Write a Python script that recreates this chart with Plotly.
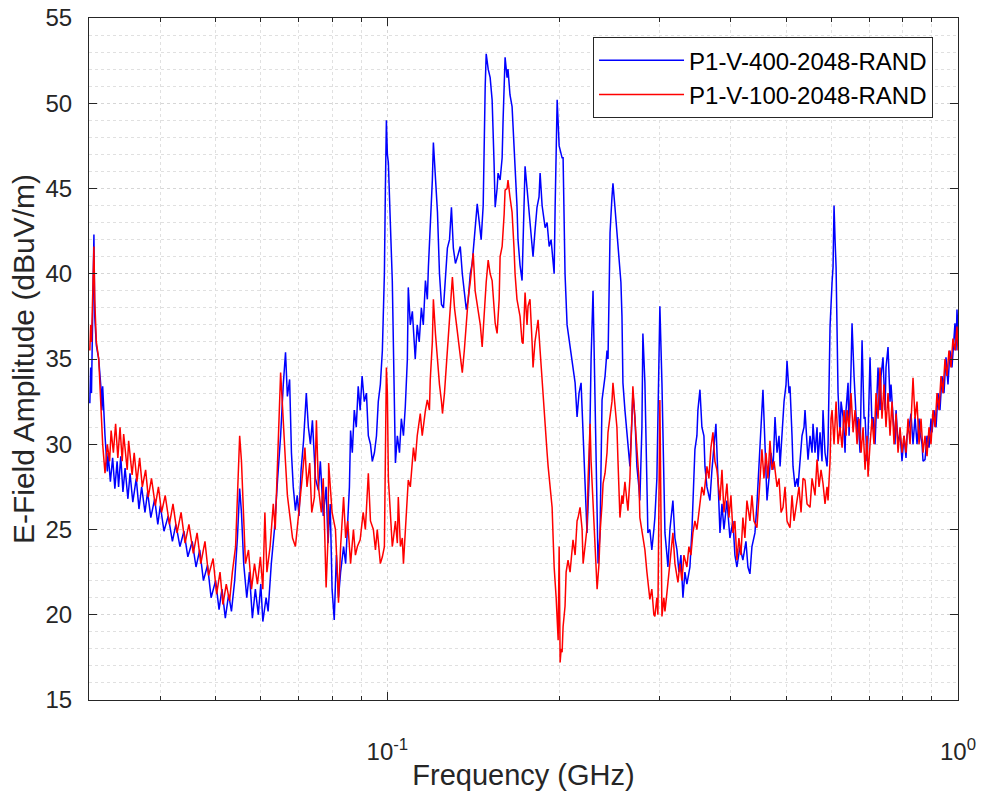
import plotly.graph_objects as go

# ---- data (frequency in GHz, amplitude in dBuV/m) ----
blue_name = "P1-V-400-2048-RAND"
red_name = "P1-V-100-2048-RAND"

blue_freq = [0.0301,0.0302,0.0303,0.0305,0.0306,0.0307,0.0309,0.0312,0.0315,0.0316,0.0317,0.0320,0.0323,0.0324,0.0327,0.0330,0.0333,0.0336,0.0338,0.0341,0.0344,0.0347,0.0351,0.0354,0.0358,0.0363,0.0367,0.0371,0.0376,0.0380,0.0385,0.0391,0.0396,0.0400,0.0406,0.0413,0.0420,0.0426,0.0433,0.0440,0.0447,0.0455,0.0462,0.0469,0.0476,0.0484,0.0491,0.0500,0.0507,0.0513,0.0520,0.0527,0.0533,0.0540,0.0546,0.0551,0.0555,0.0560,0.0567,0.0573,0.0580,0.0587,0.0594,0.0600,0.0605,0.0613,0.0618,0.0626,0.0634,0.0642,0.0650,0.0657,0.0663,0.0668,0.0674,0.0679,0.0684,0.0690,0.0695,0.0700,0.0706,0.0713,0.0721,0.0727,0.0733,0.0739,0.0748,0.0757,0.0763,0.0772,0.0781,0.0787,0.0794,0.0800,0.0807,0.0814,0.0821,0.0828,0.0838,0.0845,0.0852,0.0858,0.0862,0.0868,0.0875,0.0882,0.0889,0.0896,0.0903,0.0911,0.0919,0.0926,0.0934,0.0941,0.0949,0.0957,0.0964,0.0972,0.0980,0.0988,0.0992,0.0996,0.1000,0.1004,0.1012,0.1020,0.1028,0.1033,0.1041,0.1050,0.1058,0.1067,0.1075,0.1084,0.1088,0.1097,0.1106,0.1115,0.1119,0.1128,0.1137,0.1147,0.1156,0.1166,0.1175,0.1180,0.1189,0.1199,0.1204,0.1214,0.1224,0.1234,0.1244,0.1254,0.1264,0.1274,0.1285,0.1295,0.1305,0.1316,0.1327,0.1342,0.1353,0.1364,0.1375,0.1386,0.1397,0.1408,0.1420,0.1431,0.1437,0.1449,0.1460,0.1472,0.1478,0.1484,0.1490,0.1502,0.1514,0.1526,0.1538,0.1545,0.1557,0.1563,0.1576,0.1589,0.1595,0.1608,0.1621,0.1627,0.1640,0.1654,0.1667,0.1674,0.1687,0.1694,0.1708,0.1722,0.1729,0.1743,0.1757,0.1764,0.1778,0.1800,0.1814,0.1829,0.1844,0.1852,0.1867,0.1890,0.1905,0.1921,0.1936,0.1952,0.1960,0.1968,0.1984,0.2000,0.2008,0.2024,0.2032,0.2040,0.2048,0.2065,0.2082,0.2099,0.2115,0.2133,0.2150,0.2167,0.2185,0.2203,0.2220,0.2238,0.2257,0.2275,0.2293,0.2312,0.2331,0.2340,0.2359,0.2378,0.2407,0.2426,0.2436,0.2456,0.2475,0.2485,0.2505,0.2525,0.2536,0.2556,0.2566,0.2577,0.2587,0.2608,0.2629,0.2650,0.2661,0.2683,0.2693,0.2715,0.2737,0.2759,0.2770,0.2793,0.2804,0.2827,0.2850,0.2861,0.2884,0.2907,0.2931,0.2943,0.2967,0.2979,0.2991,0.3003,0.3028,0.3052,0.3065,0.3090,0.3102,0.3127,0.3165,0.3191,0.3217,0.3243,0.3269,0.3296,0.3322,0.3349,0.3390,0.3418,0.3459,0.3487,0.3501,0.3530,0.3558,0.3587,0.3602,0.3631,0.3675,0.3705,0.3735,0.3765,0.3796,0.3827,0.3858,0.3889,0.3936,0.3984,0.4033,0.4065,0.4098,0.4148,0.4198,0.4250,0.4284,0.4319,0.4354,0.4407,0.4443,0.4479,0.4497,0.4533,0.4552,0.4589,0.4627,0.4664,0.4702,0.4740,0.4779,0.4818,0.4857,0.4877,0.4916,0.4956,0.4996,0.5016,0.5057,0.5077,0.5118,0.5139,0.5181,0.5223,0.5244,0.5286,0.5329,0.5372,0.5394,0.5438,0.5460,0.5504,0.5549,0.5571,0.5616,0.5662,0.5685,0.5731,0.5777,0.5800,0.5847,0.5895,0.5919,0.5967,0.5991,0.6016,0.6040,0.6064,0.6089,0.6114,0.6163,0.6213,0.6238,0.6289,0.6340,0.6365,0.6417,0.6443,0.6495,0.6521,0.6574,0.6601,0.6654,0.6681,0.6735,0.6790,0.6845,0.6873,0.6928,0.6956,0.7012,0.7069,0.7098,0.7155,0.7213,0.7242,0.7301,0.7330,0.7389,0.7449,0.7479,0.7540,0.7601,0.7632,0.7694,0.7756,0.7788,0.7851,0.7914,0.7978,0.8043,0.8108,0.8141,0.8207,0.8273,0.8340,0.8408,0.8476,0.8545,0.8579,0.8649,0.8684,0.8754,0.8825,0.8896,0.8968,0.9004,0.9077,0.9151,0.9225,0.9299,0.9374,0.9450,0.9527,0.9604,0.9681,0.9760,0.9839,0.9879,0.9919,0.9959,1.0000]
blue_amp = [32.4,34.5,33.0,38.0,42.3,37.5,35.8,35.0,33.2,32.0,33.4,30.5,28.4,29.5,27.8,29.2,27.4,29.0,27.5,29.3,27.2,28.6,26.8,28.3,26.6,28.0,26.2,27.5,26.0,27.2,25.7,26.8,25.3,26.4,24.9,25.8,24.3,25.3,24.0,24.9,23.4,24.3,22.8,23.8,22.0,22.9,21.0,22.0,20.3,21.5,19.8,21.2,20.2,22.0,24.5,27.4,26.0,23.0,21.0,22.5,19.8,21.5,20.0,21.8,19.6,21.0,20.2,23.0,25.0,27.9,30.5,33.5,35.4,32.8,33.8,29.5,27.5,26.1,27.0,25.8,28.5,30.2,33.0,31.0,30.0,31.4,28.0,27.3,29.0,25.8,27.5,24.2,26.5,21.5,19.7,23.5,21.0,22.5,24.0,23.0,25.5,27.5,30.8,29.5,32.0,31.0,33.4,32.0,34.0,32.5,33.0,30.5,30.0,29.0,29.5,30.5,32.5,33.5,35.5,40.0,45.0,49.0,47.0,46.5,43.0,39.6,33.0,28.9,30.5,29.5,31.5,30.5,32.2,35.0,39.2,37.0,37.8,35.5,35.0,37.0,36.0,38.0,37.0,39.6,38.5,40.4,42.5,45.5,47.7,45.5,43.6,40.0,38.2,38.0,40.0,41.5,42.0,43.9,41.5,40.6,41.0,41.6,40.0,39.0,37.9,38.5,40.0,40.6,42.0,43.0,44.1,43.0,42.0,44.0,48.0,51.0,52.9,52.0,51.5,50.2,46.5,43.9,45.0,45.9,45.5,46.8,49.0,52.7,51.5,52.0,50.5,49.8,47.5,46.3,44.0,42.0,40.5,39.6,42.0,46.3,45.0,44.3,43.0,41.0,42.5,43.9,44.5,45.9,44.0,42.7,43.0,41.6,42.0,40.5,40.0,44.0,50.2,47.5,47.3,46.8,46.8,43.0,40.0,37.0,36.1,35.5,34.5,33.6,31.6,33.0,33.6,30.5,27.7,24.8,28.0,35.0,39.0,33.0,27.7,23.0,24.8,32.6,34.0,35.5,35.0,42.4,44.5,45.3,43.9,42.5,41.4,40.0,39.5,37.5,33.6,32.0,30.7,29.5,28.7,31.5,33.0,31.6,28.7,27.5,26.7,31.0,36.5,33.6,28.0,24.8,25.0,23.8,25.0,25.7,28.0,31.6,35.0,38.1,33.6,27.0,24.8,23.5,22.8,25.0,26.7,24.5,23.8,22.5,23.5,21.0,22.5,21.8,22.8,25.0,29.7,30.5,32.0,33.2,31.0,30.5,28.7,27.5,26.7,28.5,30.0,31.2,28.0,24.8,26.5,25.0,26.7,24.5,25.5,23.5,22.8,24.0,23.2,24.3,22.8,22.4,24.0,24.8,26.5,28.5,29.7,31.5,33.2,30.0,26.7,28.0,29.5,28.5,31.6,29.5,30.5,28.7,30.5,32.5,33.5,34.9,33.0,33.4,30.5,28.7,27.5,28.0,27.5,29.0,30.5,31.0,32.0,30.0,29.1,30.5,29.5,31.2,29.5,31.0,29.0,30.7,29.0,32.0,29.5,28.7,30.0,36.9,38.5,39.5,40.4,44.0,42.0,40.4,33.0,30.5,32.5,31.6,29.5,32.0,33.6,30.5,34.5,37.1,34.0,32.6,30.5,31.6,29.5,36.1,31.5,31.6,29.0,30.5,35.1,31.0,31.6,30.0,32.5,34.5,32.0,34.0,35.1,32.0,34.5,35.7,32.5,33.5,31.6,30.0,32.0,30.0,30.7,29.0,30.5,29.2,30.5,31.0,31.8,30.0,31.6,30.0,31.5,30.7,30.0,29.0,29.1,30.5,29.8,31.5,30.7,32.0,31.0,33.0,32.0,34.0,33.0,35.1,33.5,35.5,34.5,36.5,37.1,35.5,37.9,36.5]

red_freq = [0.0301,0.0302,0.0303,0.0305,0.0306,0.0307,0.0309,0.0312,0.0315,0.0317,0.0320,0.0323,0.0326,0.0328,0.0331,0.0334,0.0337,0.0340,0.0343,0.0345,0.0350,0.0352,0.0357,0.0360,0.0364,0.0368,0.0372,0.0377,0.0381,0.0386,0.0392,0.0397,0.0402,0.0408,0.0415,0.0421,0.0428,0.0435,0.0442,0.0449,0.0457,0.0464,0.0471,0.0479,0.0486,0.0495,0.0502,0.0509,0.0515,0.0522,0.0529,0.0535,0.0542,0.0546,0.0551,0.0555,0.0560,0.0564,0.0571,0.0578,0.0585,0.0592,0.0599,0.0605,0.0610,0.0615,0.0623,0.0631,0.0636,0.0642,0.0647,0.0650,0.0655,0.0660,0.0663,0.0668,0.0676,0.0682,0.0690,0.0695,0.0704,0.0709,0.0717,0.0723,0.0731,0.0737,0.0745,0.0751,0.0757,0.0766,0.0772,0.0781,0.0787,0.0789,0.0800,0.0811,0.0817,0.0821,0.0828,0.0838,0.0845,0.0852,0.0862,0.0872,0.0879,0.0886,0.0896,0.0907,0.0915,0.0926,0.0934,0.0945,0.0953,0.0960,0.0972,0.0980,0.0988,0.0992,0.0996,0.1000,0.1004,0.1012,0.1020,0.1024,0.1033,0.1041,0.1045,0.1054,0.1062,0.1067,0.1075,0.1084,0.1088,0.1097,0.1111,0.1119,0.1128,0.1142,0.1151,0.1166,0.1175,0.1185,0.1189,0.1199,0.1204,0.1214,0.1224,0.1234,0.1244,0.1249,0.1259,0.1274,0.1285,0.1290,0.1300,0.1311,0.1327,0.1337,0.1353,0.1364,0.1375,0.1386,0.1397,0.1414,0.1425,0.1443,0.1455,0.1466,0.1478,0.1490,0.1502,0.1514,0.1526,0.1538,0.1545,0.1557,0.1570,0.1576,0.1589,0.1602,0.1608,0.1621,0.1627,0.1640,0.1654,0.1667,0.1674,0.1687,0.1708,0.1722,0.1729,0.1743,0.1757,0.1764,0.1778,0.1793,0.1800,0.1814,0.1837,0.1852,0.1867,0.1882,0.1890,0.1905,0.1913,0.1929,0.1944,0.1952,0.1960,0.1976,0.1984,0.1992,0.2000,0.2008,0.2016,0.2024,0.2032,0.2048,0.2057,0.2073,0.2090,0.2107,0.2115,0.2133,0.2150,0.2159,0.2176,0.2194,0.2203,0.2220,0.2238,0.2248,0.2266,0.2275,0.2293,0.2312,0.2331,0.2349,0.2359,0.2378,0.2388,0.2407,0.2426,0.2436,0.2456,0.2475,0.2485,0.2505,0.2525,0.2536,0.2556,0.2577,0.2587,0.2608,0.2629,0.2640,0.2661,0.2683,0.2693,0.2715,0.2737,0.2759,0.2770,0.2793,0.2827,0.2850,0.2884,0.2907,0.2931,0.2943,0.2967,0.2979,0.2991,0.3003,0.3016,0.3028,0.3052,0.3065,0.3090,0.3114,0.3140,0.3165,0.3191,0.3230,0.3256,0.3282,0.3309,0.3349,0.3376,0.3404,0.3431,0.3459,0.3487,0.3530,0.3558,0.3587,0.3631,0.3660,0.3690,0.3720,0.3750,0.3780,0.3827,0.3858,0.3889,0.3936,0.3968,0.4000,0.4033,0.4065,0.4098,0.4131,0.4165,0.4198,0.4232,0.4267,0.4319,0.4354,0.4390,0.4443,0.4479,0.4533,0.4570,0.4608,0.4645,0.4683,0.4721,0.4760,0.4818,0.4857,0.4897,0.4936,0.4976,0.5016,0.5077,0.5118,0.5160,0.5223,0.5265,0.5308,0.5351,0.5394,0.5438,0.5504,0.5549,0.5616,0.5662,0.5708,0.5754,0.5800,0.5847,0.5895,0.5919,0.5967,0.5991,0.6016,0.6064,0.6114,0.6163,0.6213,0.6264,0.6314,0.6365,0.6391,0.6443,0.6495,0.6548,0.6601,0.6654,0.6708,0.6763,0.6818,0.6873,0.6928,0.6956,0.7012,0.7069,0.7126,0.7184,0.7242,0.7301,0.7359,0.7419,0.7479,0.7540,0.7601,0.7663,0.7725,0.7788,0.7851,0.7914,0.7978,0.8043,0.8108,0.8174,0.8240,0.8307,0.8340,0.8408,0.8476,0.8545,0.8614,0.8684,0.8754,0.8825,0.8896,0.8968,0.9041,0.9114,0.9188,0.9262,0.9337,0.9412,0.9489,0.9565,0.9642,0.9720,0.9799,0.9879,0.9959,1.0000]
red_amp = [35.5,37.0,36.0,39.5,41.6,38.5,36.0,35.0,32.0,30.0,28.3,30.0,29.0,30.8,29.5,31.2,29.2,31.0,29.0,30.6,28.5,30.2,28.2,29.5,27.8,29.2,27.5,28.5,26.9,28.0,26.4,27.5,26.0,27.0,25.3,26.5,24.8,26.0,24.2,25.3,23.6,24.8,23.0,24.3,22.3,23.3,21.2,22.5,20.6,21.8,20.8,22.5,24.0,27.0,30.5,29.0,25.0,23.0,23.8,21.5,23.0,21.8,23.4,21.5,26.0,22.5,24.0,26.5,25.0,28.5,31.5,34.2,32.2,30.5,28.9,27.0,25.7,24.5,24.0,25.0,26.9,28.0,29.8,27.5,28.9,26.0,26.9,31.4,27.5,26.0,28.0,21.6,24.5,28.9,26.0,25.0,22.5,20.7,24.0,26.9,24.5,25.5,23.0,25.0,23.5,24.0,24.4,26.0,25.0,28.3,25.5,25.0,23.8,25.0,23.0,23.4,24.0,28.0,34.5,33.0,28.0,26.0,24.0,24.4,25.5,24.2,26.9,24.0,24.5,23.0,25.0,26.5,27.9,27.5,29.8,29.0,30.5,31.8,30.5,32.0,32.6,32.0,33.8,36.0,38.5,36.5,34.8,33.5,32.5,31.8,33.0,35.7,37.0,38.5,39.8,38.0,36.5,35.5,34.2,35.5,37.0,38.6,39.5,41.2,39.0,37.7,37.0,35.7,38.0,39.5,40.8,40.0,39.6,37.8,37.1,36.5,38.5,41.0,41.6,43.5,44.9,45.0,45.5,44.5,43.6,41.5,40.0,38.5,37.5,36.0,35.9,38.9,37.0,38.1,38.5,36.0,34.5,36.0,37.3,35.5,33.6,32.0,31.0,29.5,28.7,27.5,26.3,24.5,22.8,21.0,19.9,18.5,24.0,17.2,18.0,17.8,19.3,20.5,22.5,23.2,22.5,24.0,24.4,23.5,25.5,25.7,26.3,25.0,23.0,24.0,25.1,28.0,31.2,29.0,26.7,24.0,21.5,23.0,24.8,26.5,27.7,28.3,29.5,30.7,31.6,32.5,33.6,32.5,31.0,29.0,25.7,27.0,26.5,27.8,26.5,26.1,28.0,31.0,33.4,31.5,29.7,28.0,25.7,25.0,23.8,22.5,20.9,21.5,20.0,19.9,21.0,20.0,26.0,32.6,26.0,19.9,21.0,20.2,21.3,22.5,23.5,24.8,23.0,21.9,23.0,22.0,23.5,22.8,24.0,23.5,24.8,25.5,25.0,26.7,27.5,27.0,28.7,28.0,29.8,30.7,29.0,28.5,26.7,28.5,26.0,27.7,25.7,27.0,24.8,25.5,23.2,24.5,23.5,25.7,24.5,26.7,25.5,27.0,25.5,25.1,27.0,29.7,28.0,29.5,28.0,30.2,28.5,29.0,27.5,28.0,26.0,26.3,27.5,25.5,25.1,27.0,25.5,26.7,27.5,26.0,28.0,27.9,26.5,26.3,28.0,27.0,29.1,27.5,28.5,27.7,26.5,27.5,26.7,29.0,31.5,32.0,30.0,32.5,30.0,31.0,29.8,32.0,30.5,32.0,31.0,33.0,30.7,32.0,30.0,31.5,29.5,31.0,28.5,30.5,28.1,30.0,31.5,30.0,33.0,31.5,34.5,31.5,33.5,31.0,33.0,30.5,32.5,30.0,31.8,29.5,31.0,29.5,30.5,29.5,31.5,30.0,32.5,33.9,31.5,32.5,30.0,31.5,29.5,30.5,29.3,31.0,30.0,32.0,31.0,33.0,32.0,34.0,33.0,35.0,34.0,35.5,34.5,36.2,35.5,36.9,35.5]

y_ticks = [15, 20, 25, 30, 35, 40, 45, 50, 55]
x_ticks = [0.1, 1.0]
x_tick_text = ["10<sup>-1</sup>", "10<sup>0</sup>"]
x_minor = [0.03, 0.04, 0.05, 0.06, 0.07, 0.08, 0.09, 0.2, 0.3, 0.4, 0.5, 0.6, 0.7, 0.8, 0.9]

FONT = "Liberation Sans, Arial, Helvetica, sans-serif"
TXT = "#262626"

fig = go.Figure()
fig.add_trace(go.Scatter(x=blue_freq, y=blue_amp, mode="lines", name=blue_name,
                         line=dict(color="#0000FF", width=1.5)))
fig.add_trace(go.Scatter(x=red_freq, y=red_amp, mode="lines", name=red_name,
                         line=dict(color="#FF0000", width=1.5)))

fig.update_layout(
    width=981, height=794,
    margin=dict(l=89, r=23, t=18, b=94),
    paper_bgcolor="white", plot_bgcolor="white",
    font=dict(family=FONT, size=24, color=TXT),
    showlegend=True,
    legend=dict(x=0.58, y=0.972, xanchor="left", yanchor="top",
                bgcolor="white", bordercolor="#262626", borderwidth=1,
                font=dict(size=24, color="#000000"),
                itemwidth=85, tracegroupgap=0),
)

fig.update_xaxes(
    type="log", range=[-1.5229, 0], automargin=False,
    tickmode="array", tickvals=x_ticks, ticktext=x_tick_text,
    tickfont=dict(size=24, color=TXT),
    ticks="inside", ticklen=8, tickcolor="#262626", tickwidth=1,
    showline=True, linecolor="#262626", linewidth=1, mirror="ticks",
    showgrid=True, gridcolor="#d6d6d6", griddash="dot", gridwidth=1,
    minor=dict(tickmode="array", tickvals=x_minor, ticks="inside", ticklen=4,
               tickcolor="#262626", showgrid=True, gridcolor="#e0e0e0",
               griddash="dot"),
    ticklabelstandoff=30,
    title=dict(text="Frequency (GHz)", font=dict(size=29, color=TXT), standoff=0),
    zeroline=False,
)
fig.update_yaxes(
    range=[15, 55], automargin=False,
    tickmode="array", tickvals=y_ticks,
    tickfont=dict(size=24, color=TXT),
    ticks="inside", ticklen=8, tickcolor="#262626", tickwidth=1,
    showline=True, linecolor="#262626", linewidth=1, mirror="ticks",
    showgrid=True, gridcolor="#d6d6d6", griddash="dot", gridwidth=1,
    minor=dict(dtick=1, ticks="", showgrid=True, gridcolor="#e0e0e0", griddash="dot"),
    ticklabelstandoff=11,
    title=dict(text="E-Field Amplitude (dBuV/m)", font=dict(size=30, color=TXT), standoff=1),
    zeroline=False,
)

# remove the page's default body margin so the figure sits at the window's top-left corner
fig.write_html("out.html", config={"displayModeBar": False},
               post_script="document.body.style.margin='0';")
